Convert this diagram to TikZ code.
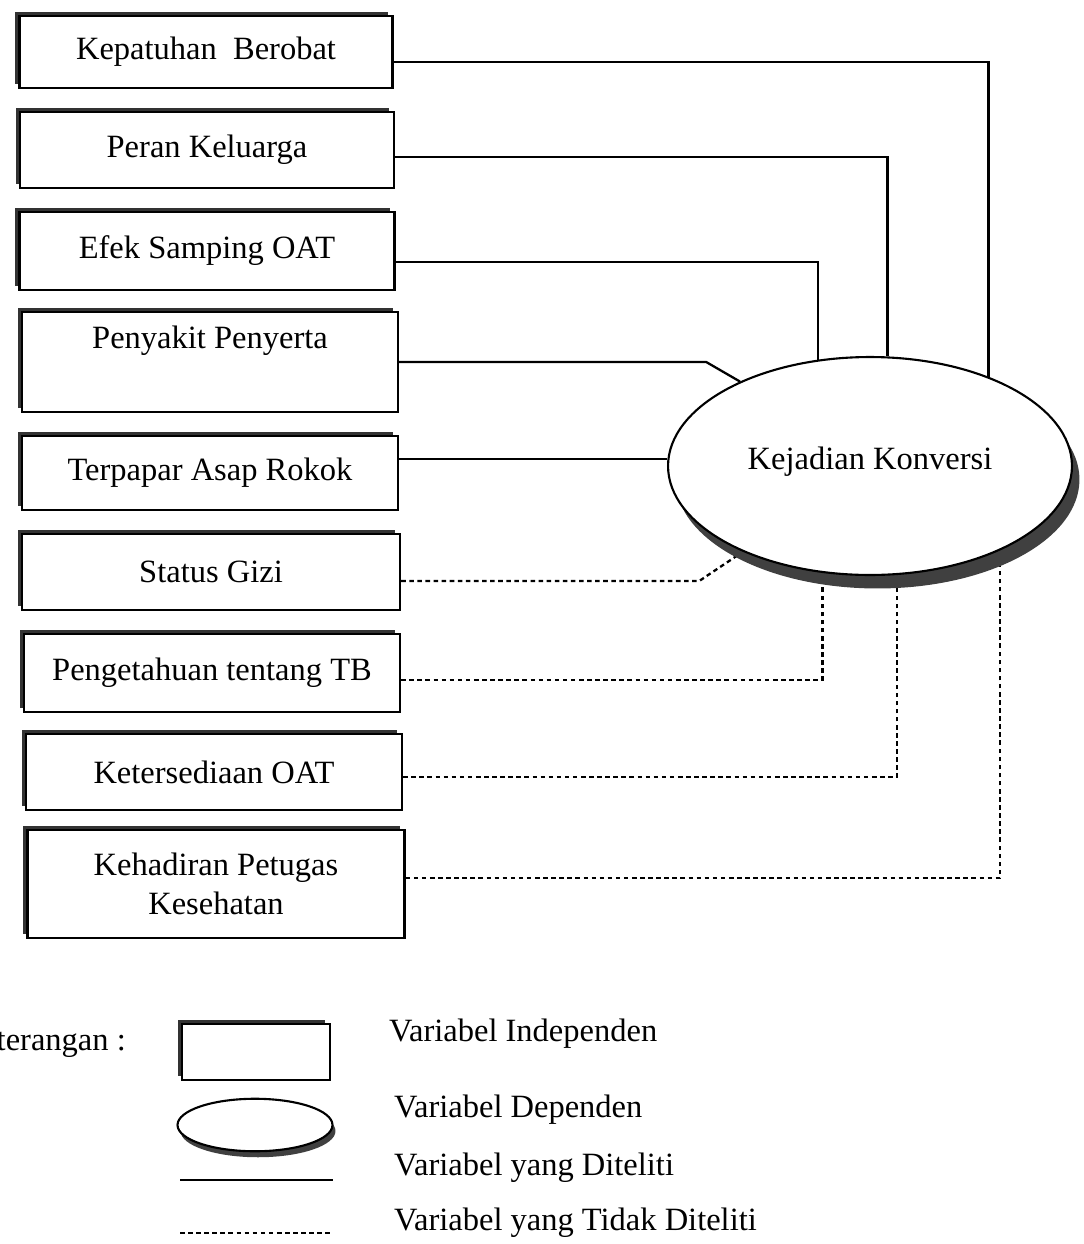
\documentclass[tikz,border=0pt]{standalone}
\usepackage{fontspec}
\setmainfont{Liberation Serif}
\usepackage{tikz}
\usetikzlibrary{shapes.geometric,shadows,backgrounds}

\begin{document}
\begin{tikzpicture}[
    x=0.02cm, y=-0.02cm,
    every node/.style={font=\fontsize{18.5}{22}\selectfont},
    indep/.style={draw, line width=1.4pt, fill=white, minimum width=7.5cm, minimum height=1.52cm, align=center, inner sep=2pt,
        general shadow={fill=black!80, shadow xshift=-0.09cm, shadow yshift=0.08cm}},
    dep/.style={ellipse, draw, line width=1.2pt, fill=white, inner sep=0pt,
        general shadow={fill=black!75, shadow xshift=0.15cm, shadow yshift=-0.27cm}},
    depkey/.style={ellipse, draw, line width=1.2pt, fill=white, inner sep=0pt, minimum width=3.1cm, minimum height=1.05cm,
        general shadow={fill=black!75, shadow xshift=0.06cm, shadow yshift=-0.12cm}},
    studied/.style={draw=black, line width=1.3pt},
    notstudied/.style={draw=black, line width=1.3pt, dash pattern=on 2.6pt off 2pt},
    lab/.style={anchor=west}
]
\useasboundingbox (0,0) rectangle (1083,1244);

% independent variables
\node[indep, minimum width=7.46cm, minimum height=1.44cm] (kepatuhan) at (206,52) {Kepatuhan~ Berobat};
\node[indep, minimum width=7.48cm] (peran) at (207,150) {Peran Keluarga};
\node[indep, minimum height=1.56cm] (efek) at (207,251) {Efek Samping OAT};
\node[indep, minimum width=7.52cm, minimum height=2cm] (penyakit) at (210,362) {Penyakit Penyerta\\ \strut};
\node[indep, minimum width=7.52cm, minimum height=1.48cm] (terpapar) at (210,473) {Terpapar Asap Rokok};
\node[indep, minimum width=7.56cm] (gizi) at (211,572) {Status Gizi};
\node[indep, minimum width=7.52cm, minimum height=1.56cm] (pengetahuan) at (212,673) {Pengetahuan tentang TB};
\node[indep, minimum width=7.52cm] (ketersediaan) at (214,772) {Ketersediaan OAT};
\node[indep, minimum width=7.54cm, minimum height=2.16cm] (kehadiran) at (216,884) {Kehadiran Petugas\\Kesehatan};

% dependent variable
\node[dep, minimum width=8.08cm, minimum height=4.36cm, text depth=0.3cm] (konversi) at (870,466) {Kejadian Konversi};

\begin{scope}[on background layer]
\draw[studied] (kepatuhan.east |- 0,62) -| (konversi.37);
\draw[studied] (peran.east |- 0,157) -| (konversi.81);
\draw[studied] (efek.east |- 0,262) -| (konversi.116);
\draw[studied] (penyakit.east) -- ++(307,0) -- (konversi.147);
\draw[studied] (terpapar.east |- konversi.178) -- (konversi.178);
\draw[notstudied] (gizi.east |- 0,581) -- ++(298,0) -- (konversi.214);
\draw[notstudied] (pengetahuan.east |- 0,680) -| (konversi.246);
\draw[notstudied] (ketersediaan.east |- 0,777) -| (konversi.284);
\draw[notstudied] (kehadiran.east |- 0,878) -| (konversi.327);
\end{scope}

% legend
\node[anchor=east] (keterangan) at (132,1043) {Keterangan :};
\node[indep, minimum width=2.96cm, minimum height=1.12cm] (keyindep) at (256,1052) {};
\node[depkey] (keydep) at (255,1125) {};
\coordinate (solida) at (180,1180);
\coordinate (solidb) at (333,1180);
\coordinate (dasha) at (180,1233);
\coordinate (dashb) at (333,1233);
\draw[studied] (solida) -- (solidb);
\draw[notstudied, line width=1pt] (dasha) -- (dashb);
\node[lab] (tindep) at (383,1034) {Variabel Independen};
\node[lab] (tdep) at (388,1110) {Variabel Dependen};
\node[lab] (tditeliti) at (388,1168) {Variabel yang Diteliti};
\node[lab] (ttidak) at (388,1223) {Variabel yang Tidak Diteliti};
\end{tikzpicture}
\end{document}
